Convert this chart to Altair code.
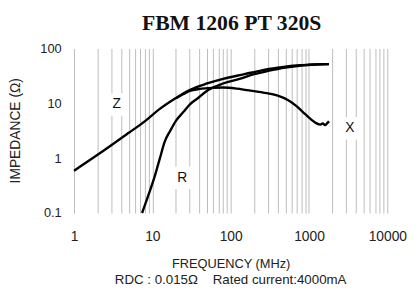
import altair as alt
import pandas as pd

# ---- data ----
z_freq = [1, 2, 5, 8, 12, 20, 30, 50, 80, 150, 250, 400, 700, 1000, 1400, 1800]
z_imp = [0.59, 1.15, 2.9, 4.7, 7.6, 12.5, 17.5, 23, 28, 34, 40, 44.5, 49, 50.5, 51.5, 52]

r_freq = [7.4, 9, 10.7, 12.5, 14.4, 17, 20, 25, 30, 37, 50, 80, 130, 200, 300, 500, 800, 1200, 1800]
r_imp = [0.1, 0.22, 0.46, 1.0, 2.0, 3.2, 4.8, 7, 9.5, 12, 17, 23, 28, 34, 39, 45, 49, 51, 52]

x_freq = [20, 25, 30, 40, 60, 80, 120, 160, 260, 400, 550, 680, 850, 1000, 1100, 1250, 1400, 1500, 1600, 1700, 1800]
x_imp = [12.4, 14.8, 16.8, 18.3, 19.2, 19.4, 18.5, 17.4, 15.7, 13.8, 11.3, 9.1, 6.8, 5.5, 4.9, 4.3, 4.1, 4.3, 4.0, 4.3, 4.7]

label_text = ["Z", "R", "X"]
label_freq = [3.5, 24, 3330]
label_imp = [9.5, 0.44, 3.5]

x_ticks = [m * d for d in [1, 10, 100, 1000] for m in range(1, 10)] + [10000]
y_ticks = [0.1, 1, 10, 100]

title_text = "FBM 1206 PT 320S"
x_title = "FREQUENCY (MHz)"
note_text = "RDC : 0.015\u03a9\u00a0\u00a0\u00a0\u00a0Rated current:4000mA"
y_title = "IMPEDANCE (\u03a9)"

rows = []
for name, fs, vs in [("Z", z_freq, z_imp), ("R", r_freq, r_imp), ("X", x_freq, x_imp)]:
    for f, v in zip(fs, vs):
        rows.append({"series": name, "freq": f, "imp": v})
curves = pd.DataFrame(rows)
labels = pd.DataFrame({"text": label_text, "freq": label_freq, "imp": label_imp})

FONT = "Liberation Sans"

xscale = alt.Scale(type="log", domain=[1, 10000], nice=False)
yscale = alt.Scale(type="log", domain=[0.1, 100], nice=False)

xaxis = alt.Axis(
    values=x_ticks,
    format="d",
    labelExpr="indexof(['1','10','100','1000','10000'], datum.label) >= 0 ? datum.label : ''",
    grid=True, gridColor="#bdbdbd", gridWidth=1,
    domain=False, ticks=False,
    labelFont=FONT, labelFontSize=14, labelColor="#222222", labelPadding=17,
    labelFlush=False, labelOverlap=False,
    title=x_title, titleFont=FONT, titleFontSize=13, titleFontWeight="normal",
    titleColor="#222222", titleBaseline="alphabetic",
    titleY=55, titleX=159, titleAlign="center",
)
yaxis = alt.Axis(
    values=y_ticks, format="~g",
    grid=False, domain=False, ticks=False,
    labelFont=FONT, labelFontSize=13, labelColor="#222222", labelPadding=13,
    title=y_title, titleFont=FONT, titleFontSize=14, titleFontWeight="normal",
    titleColor="#222222", titleAngle=270, titleAlign="center", titleBaseline="middle",
    titleX=-59, titleY=83,
)

base = alt.Chart(curves)
lines = base.mark_line(color="black", strokeWidth=2.4, interpolate="monotone").encode(
    x=alt.X("freq:Q", scale=xscale, axis=xaxis),
    y=alt.Y("imp:Q", scale=yscale, axis=yaxis),
    detail="series:N",
    order="freq:Q",
)

boxes = alt.Chart(labels).mark_square(color="white", opacity=1, size=520).encode(
    x=alt.X("freq:Q", scale=xscale),
    y=alt.Y("imp:Q", scale=yscale),
)
texts = alt.Chart(labels).mark_text(font=FONT, fontSize=14, color="#111111").encode(
    x=alt.X("freq:Q", scale=xscale),
    y=alt.Y("imp:Q", scale=yscale),
    text="text:N",
)

title_mark = alt.Chart(pd.DataFrame({"t": [title_text]})).mark_text(
    font="Liberation Serif", fontSize=22, fontWeight="bold", color="#111111",
    align="center", baseline="alphabetic",
).encode(x=alt.value(160), y=alt.value(-19), text="t:N")

note_mark = alt.Chart(pd.DataFrame({"t": [note_text]})).mark_text(
    font=FONT, fontSize=13.5, color="#222222",
    align="center", baseline="alphabetic",
).encode(x=alt.value(159), y=alt.value(239.5), text="t:N")

chart = alt.layer(lines, boxes, texts, title_mark, note_mark).properties(
    width=318, height=167,
    autosize=alt.AutoSizeParams(type="none"),
    padding={"left": 67, "top": 39, "right": 20, "bottom": 73},
).configure_view(stroke=None)

chart.save("out.html", embed_options={"renderer": "svg", "actions": False})
